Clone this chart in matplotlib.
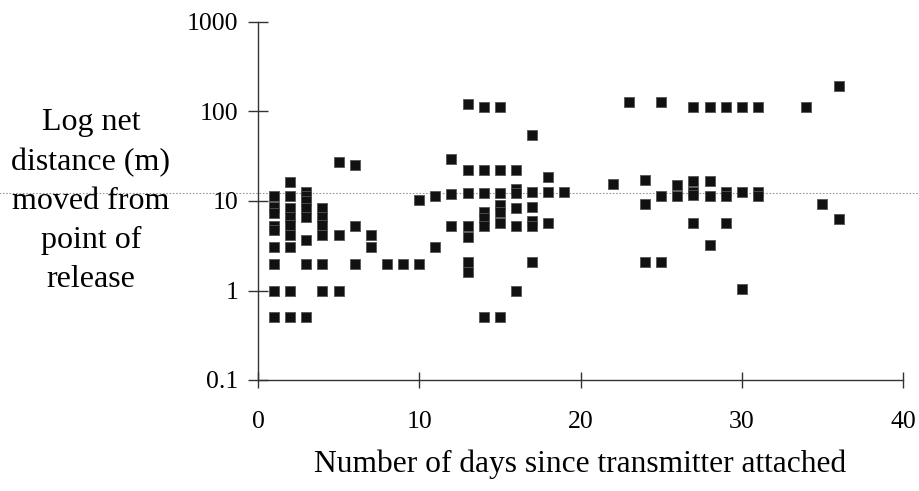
import matplotlib
matplotlib.use("Agg")
import matplotlib.pyplot as plt
from matplotlib.ticker import FixedLocator, FixedFormatter, NullLocator

# ---- data ----
day_1 = [11.3, 8.6, 7.4, 5.3, 4.7, 3.1, 2.0, 1.0, 0.5]
day_2 = [16.5, 11.3, 8.4, 6.6, 5.4, 4.2, 3.1, 1.0, 0.5]
day_3 = [12.5, 11.5, 10.0, 8.4, 6.6, 3.7, 2.0, 0.5]
day_4 = [8.4, 6.7, 5.4, 4.2, 2.0, 1.0]
day_5 = [27.0, 4.2, 1.0]
day_6 = [25.0, 5.3, 2.0]
day_7 = [4.2, 3.1]
day_8 = [2.0]
day_9 = [2.0]
day_10 = [10.3, 2.0]
day_11 = [11.3, 3.1]
day_12 = [29.5, 12.0, 5.2]
day_13 = [120.0, 22.0, 12.3, 5.2, 4.0, 2.1, 1.6]
day_14 = [112.0, 22.0, 12.3, 7.5, 6.5, 5.3, 0.5]
day_15 = [112.0, 22.0, 12.3, 9.0, 7.5, 5.7, 0.5]
day_16 = [22.0, 13.5, 12.3, 8.4, 5.3, 1.0]
day_17 = [55.0, 12.5, 8.5, 6.0, 5.3, 2.1]
day_18 = [18.5, 12.5, 5.7]
day_19 = [12.5]
day_22 = [15.6]
day_23 = [127.0]
day_24 = [17.3, 9.3, 2.1]
day_25 = [127.0, 11.3, 2.1]
day_26 = [15.2, 11.3]
day_27 = [113.0, 16.8, 12.5, 11.6, 5.7]
day_28 = [113.0, 16.8, 11.3, 3.2]
day_29 = [113.0, 12.5, 11.3, 5.7]
day_30 = [111.0, 12.5, 1.04]
day_31 = [111.0, 12.5, 11.3]
day_34 = [113.0]
day_35 = [9.3]
day_36 = [192.0, 6.3]

observations = {
    1: day_1, 2: day_2, 3: day_3, 4: day_4, 5: day_5, 6: day_6, 7: day_7,
    8: day_8, 9: day_9, 10: day_10, 11: day_11, 12: day_12, 13: day_13,
    14: day_14, 15: day_15, 16: day_16, 17: day_17, 18: day_18, 19: day_19,
    22: day_22, 23: day_23, 24: day_24, 25: day_25, 26: day_26, 27: day_27,
    28: day_28, 29: day_29, 30: day_30, 31: day_31, 34: day_34, 35: day_35,
    36: day_36,
}

x_ticks = [0, 10, 20, 30, 40]
x_tick_labels = ["0", "10", "20", "30", "40"]
y_ticks = [0.1, 1, 10, 100, 1000]
y_tick_labels = ["0.1", "1", "10", "100", "1000"]
ref_line = 12.4  # faint dotted horizontal rule across the page

x_label = "Number of days since transmitter attached"
y_label = "Log net\ndistance (m)\nmoved from\npoint of\nrelease"

# ---- plotting ----
plt.rcParams["font.family"] = ["Liberation Serif", "DejaVu Serif"]

fig = plt.figure(figsize=(9.2, 4.91), dpi=100)
ax = fig.add_axes([258 / 920, 1 - 380 / 491, 645 / 920, (380 - 22) / 491])

xs, ys = [], []
for d, vals in observations.items():
    for v in vals:
        xs.append(d)
        ys.append(v)

ax.scatter(xs, ys, marker="s", s=58, facecolor="#111111",
           edgecolor="#555555", linewidths=0.6, zorder=3, clip_on=False)

ax.set_yscale("log")
ax.set_xlim(0, 40)
ax.set_ylim(0.1, 1000)

ax.xaxis.set_major_locator(FixedLocator(x_ticks))
ax.xaxis.set_major_formatter(FixedFormatter(x_tick_labels))
ax.yaxis.set_major_locator(FixedLocator(y_ticks))
ax.yaxis.set_major_formatter(FixedFormatter(y_tick_labels))
ax.yaxis.set_minor_locator(NullLocator())
ax.xaxis.set_minor_locator(NullLocator())

for s in ["top", "right"]:
    ax.spines[s].set_visible(False)
for s in ["left", "bottom"]:
    ax.spines[s].set_color("#333333")
    ax.spines[s].set_linewidth(1.0)

ax.tick_params(axis="y", direction="inout", length=14, width=1.0,
               color="#333333", labelsize=18.5, pad=7)
ax.tick_params(axis="x", direction="inout", length=11, width=1.0,
               color="#333333", labelsize=18.5, pad=17)

ax.axhline(ref_line, xmin=-0.41, xmax=1.03, clip_on=False, color="#999999",
           lw=0.8, ls=(0, (1.5, 1.5)), zorder=1)

ax.set_xlabel(x_label, fontsize=22.7, labelpad=12)
fig.text(91 / 920, 1 - 201 / 491, y_label, ha="center", va="center",
         fontsize=23, linespacing=1.45)

fig.savefig("out.png", dpi=100, facecolor="white")
